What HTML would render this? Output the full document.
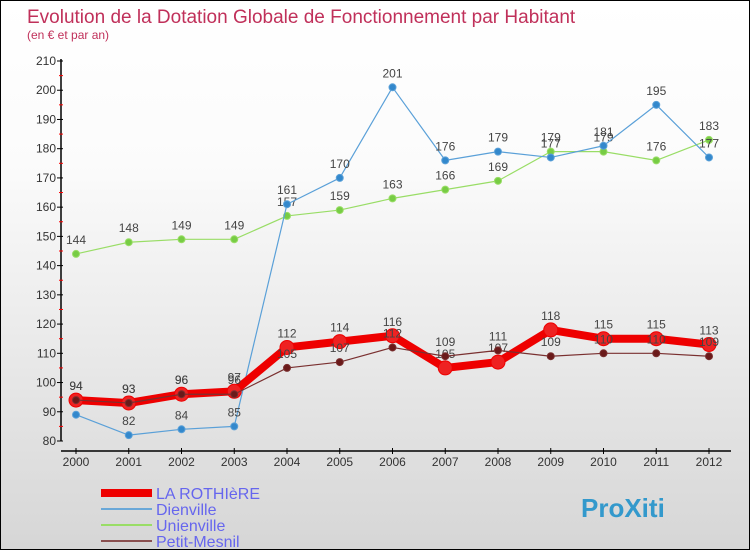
<!DOCTYPE html>
<html><head><meta charset="utf-8"><style>
body{margin:0;width:750px;height:550px;overflow:hidden;font-family:"Liberation Sans",sans-serif}
#wrap{position:relative;width:748px;height:548px;border:1px solid #000;background:linear-gradient(#fff,#fbfbfb 30%,#d6d6d6)}
svg{position:absolute;left:0;top:0}
</style></head><body>
<div id="wrap">
<svg id="c" width="750" height="550">
<text x="26" y="22" font-size="19" fill="#c0305a">Evolution de la Dotation Globale de Fonctionnement par Habitant</text>
<text x="26" y="38" font-size="12" fill="#c0305a">(en € et par an)</text>
</svg>
</div>
<script>
const years=[2000,2001,2002,2003,2004,2005,2006,2007,2008,2009,2010,2011,2012];
const rothiere=[94,93,96,97,112,114,116,105,107,118,115,115,113];
const dienville=[89,82,84,85,161,170,201,176,179,177,181,195,177];
const unienville=[144,148,149,149,157,159,163,166,169,179,179,176,183];
const petitMesnil=[94,93,96,96,105,107,112,109,111,109,110,110,109];
const yTicks=[80,90,100,110,120,130,140,150,160,170,180,190,200,210];
const NS='http://www.w3.org/2000/svg';
const svg=document.getElementById('c');
const X=i=>75+i*52.75;
const Y=v=>440-(v-80)*380/130;
function mk(t,a,p){const e=document.createElementNS(NS,t);for(const k in a)e.setAttribute(k,a[k]);(p||svg).appendChild(e);return e;}
// axes
let ax=mk('g',{});


mk('line',{x1:60,y1:58,x2:60,y2:440,stroke:'#000','stroke-width':1.5},ax);
mk('line',{x1:60,y1:450,x2:730,y2:450,stroke:'#000','stroke-width':1.5},ax);
yTicks.forEach(v=>{
 mk('line',{x1:56,x2:62,y1:Y(v),y2:Y(v),stroke:'#000'},ax);
 if(v<210)mk('line',{x1:58,x2:62,y1:Y(v+5),y2:Y(v+5),stroke:'#f00'},ax);
 const t=mk('text',{x:55,y:Y(v)+4,'font-size':12,'text-anchor':'end',fill:'#333'},ax);t.textContent=v;
 
 
});
years.forEach((y,i)=>{
 mk('line',{x1:X(i),x2:X(i),y1:447,y2:453,stroke:'#000'},ax);
 const t=mk('text',{x:X(i),y:465,'font-size':12,'text-anchor':'middle',fill:'#333'},ax);t.textContent=y;
 
 
});
function series(vals,color,w,r,dot,name,skip){
 const g=mk('g',{});
 
 
 mk('polyline',{points:vals.map((v,i)=>X(i)+','+Y(v)).join(' '),fill:'none',stroke:color,'stroke-width':w,'stroke-linejoin':'round'},g);
 vals.forEach((v,i)=>{
  const c=mk('circle',{cx:X(i),cy:Y(v),r:r,fill:dot,stroke:color,'stroke-width':1},g);
  
  
  if(skip&&skip.includes(i))return;
  const t=mk('text',{x:X(i),y:Y(v)-10,'font-size':12,'text-anchor':'middle',fill:'#444'},g);t.textContent=v;
  
  
 });
}
series(unienville,'#99dd66',1.2,3.5,'#77cc44','series-unienville');
series(dienville,'#5aa0d8',1.2,3.5,'#3388cc','series-dienville',[0]);
series(rothiere,'#ee0000',8,7,'#ee2222','series-la-rothiere');
series(petitMesnil,'#7a3030',1.2,3.5,'#6a1a1a','series-petit-mesnil');
// legend
const leg=[['LA ROTHIèRE','#ee0000',8],['Dienville','#6aa8d8',2],['Unienville','#99dd66',2],['Petit-Mesnil','#8a5050',2]];
leg.forEach((l,i)=>{
 const g=mk('g',{});
 
 
 const y=492+i*16;
 mk('line',{x1:100,x2:151,y1:y,y2:y,stroke:l[1],'stroke-width':l[2]},g);
 const t=mk('text',{x:155,y:y+6,'font-size':16,fill:'#6666ee'},g);t.textContent=l[0];
});
const lg=mk('text',{x:580,y:516,'font-size':26,'font-weight':'bold',fill:'#3399cc'});
lg.textContent='ProXiti';


</script>
</body></html>
